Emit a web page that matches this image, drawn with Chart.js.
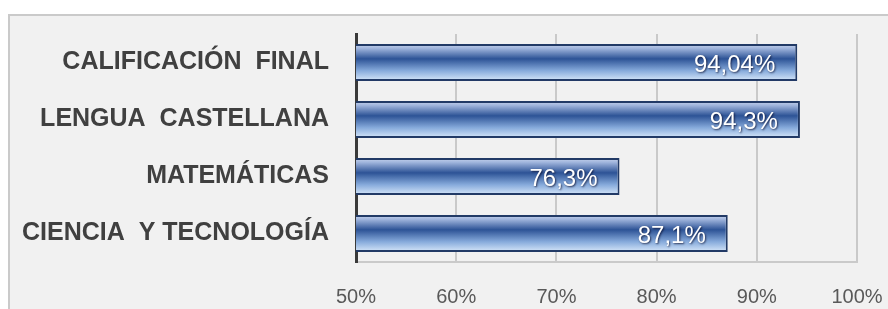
<!DOCTYPE html>
<html>
<head>
<meta charset="utf-8">
<script src="https://cdn.jsdelivr.net/npm/chart.js@4"></script>
<style>
html,body{margin:0;padding:0;background:#ffffff;}
#wrap{width:888px;height:309px;position:relative;}
</style>
</head>
<body>
<div id="wrap"><canvas id="c" width="888" height="309"></canvas></div>
<script>
const categories = ["CALIFICACIÓN  FINAL", "LENGUA  CASTELLANA", "MATEMÁTICAS", "CIENCIA  Y TECNOLOGÍA"];
const values = [94.04, 94.3, 76.3, 87.1];
const valueLabels = ["94,04%", "94,3%", "76,3%", "87,1%"];
const tickMin = 50, tickMax = 100, tickStep = 10;

const BAR_PCT = 0.65;

function barGradient(ctx) {
  const chart = ctx.chart;
  const area = chart.chartArea;
  if (!area || ctx.type !== 'data') return '#2e5497';
  const yScale = chart.scales.y;
  const yc = yScale.getPixelForValue(ctx.dataIndex);
  const h = (area.bottom - area.top) / categories.length * BAR_PCT;
  const g = chart.ctx.createLinearGradient(0, yc - h / 2, 0, yc + h / 2);
  g.addColorStop(0, '#c9d5ee');
  g.addColorStop(0.12, '#9fb4dc');
  g.addColorStop(0.40, '#2d5396');
  g.addColorStop(0.72, '#86aadb');
  g.addColorStop(1, '#d8e8fa');
  return g;
}

const panelPlugin = {
  id: 'panel',
  beforeDraw(chart) {
    const c = chart.ctx;
    c.save();
    c.fillStyle = '#ffffff';
    c.fillRect(0, 0, chart.width, chart.height);
    c.fillStyle = '#f1f1f1';
    c.fillRect(9, 15, chart.width - 9, chart.height - 15);
    c.strokeStyle = '#cacaca';
    c.lineWidth = 2;
    c.beginPath();
    c.moveTo(9, chart.height);
    c.lineTo(9, 15);
    c.lineTo(chart.width, 15);
    c.stroke();
    c.restore();
  }
};

const labelPlugin = {
  id: 'valueLabels',
  afterDatasetsDraw(chart) {
    const c = chart.ctx;
    const meta = chart.getDatasetMeta(0);
    c.save();
    c.font = '24px "Liberation Sans", Arial, sans-serif';
    c.textAlign = 'right';
    c.textBaseline = 'middle';
    c.fillStyle = '#ffffff';
    c.shadowColor = 'rgba(0,0,30,0.7)';
    c.shadowOffsetX = 1;
    c.shadowOffsetY = 1;
    c.shadowBlur = 2;
    meta.data.forEach((el, i) => {
      c.fillText(valueLabels[i], el.x - 22, el.y + 3);
    });
    c.restore();
  }
};

new Chart(document.getElementById('c'), {
  type: 'bar',
  data: {
    labels: categories,
    datasets: [{
      data: values,
      backgroundColor: barGradient,
      borderColor: '#223a66',
      borderWidth: 2,
      borderSkipped: false,
      barPercentage: BAR_PCT,
      categoryPercentage: 1
    }]
  },
  options: {
    indexAxis: 'y',
    responsive: false,
    animation: false,
    devicePixelRatio: 1,
    layout: { padding: { top: 34, right: 31, left: 0, bottom: 0 } },
    plugins: { legend: { display: false }, tooltip: { enabled: false } },
    scales: {
      x: {
        min: tickMin, max: tickMax,
        ticks: {
          stepSize: tickStep,
          callback: v => v + '%',
          color: '#595959',
          font: { family: '"Liberation Sans", Arial, sans-serif', size: 20 },
          padding: 23
        },
        grid: { color: '#c9c9c9', lineWidth: 2, drawTicks: false },
        border: { display: true, color: '#cacaca', width: 2 },
        afterFit(scale) {
          scale.height = 47;
          scale.paddingLeft = 0; scale.paddingRight = 0;
          scale.paddingTop = 0; scale.paddingBottom = 0;
        }
      },
      y: {
        ticks: {
          color: '#404040',
          font: { family: '"Liberation Sans", Arial, sans-serif', size: 25, weight: 'bold' },
          padding: 27
        },
        grid: { display: false, drawTicks: false },
        border: { display: true, color: '#3a3a3a', width: 3 },
        afterFit(scale) {
          scale.width = 356;
          scale.paddingLeft = 0; scale.paddingRight = 0;
          scale.paddingTop = 0; scale.paddingBottom = 0;
        }
      }
    }
  },
  plugins: [panelPlugin, labelPlugin]
});
</script>
</body>
</html>
